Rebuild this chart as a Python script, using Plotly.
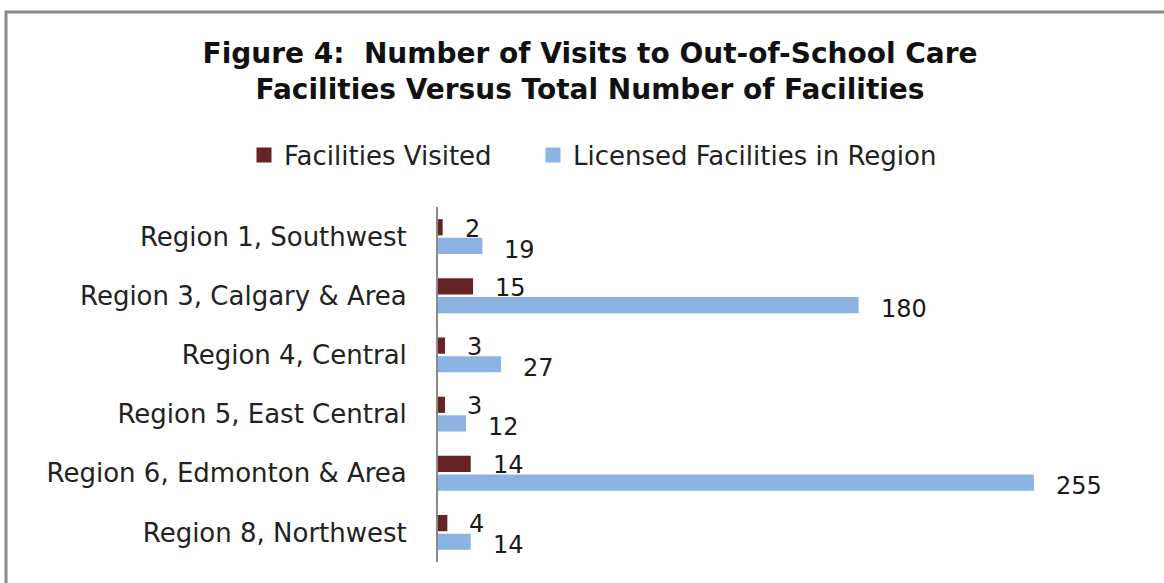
import plotly.graph_objects as go

# Regions and facility counts
regions = [
    "Region 1, Southwest",
    "Region 3, Calgary & Area",
    "Region 4, Central",
    "Region 5, East Central",
    "Region 6, Edmonton & Area",
    "Region 8, Northwest",
]
visited = [2, 15, 3, 3, 14, 4]
licensed = [19, 180, 27, 12, 255, 14]

series_names = ["Facilities Visited", "Licensed Facilities in Region"]
colors = ["#652323", "#8DB3E2"]

W, H = 1164, 583
ML, MR, MT, MB = 438, 95, 207, 21
PW = W - ML - MR
PH = H - MT - MB


def px_to_paper_x(px):
    return (px - ML) / PW


def py_to_paper_y(py):
    return (H - MB - py) / PH


FONT = "DejaVu Sans"

fig = go.Figure()
for name, vals, col in zip(series_names, [visited, licensed], colors):
    fig.add_trace(go.Bar(
        y=regions, x=vals, name=name, orientation="h",
        marker=dict(color=col, line=dict(width=0)),
        showlegend=False,
    ))

# Legend keys drawn as square markers, one legend box per series
legend_ids = ["legend", "legend2"]
legend_left_px = [244, 533]
for name, col, lid in zip(series_names, colors, legend_ids):
    fig.add_trace(go.Scatter(
        x=[None], y=[None], name=name, mode="markers",
        marker=dict(symbol="square", size=15, color=col),
        showlegend=True, legend=lid,
    ))

legend_style = dict(
    orientation="h", xanchor="left", yanchor="middle",
    y=py_to_paper_y(155), bgcolor="rgba(0,0,0,0)",
    font=dict(family=FONT, size=26, color="#222222"),
)

# Value labels beside each bar end
annotations = []
for vals, shift in [(visited, 8), (licensed, -13)]:
    for r, v in zip(regions, vals):
        annotations.append(dict(
            x=v, y=r, xref="x", yref="y", text=str(v), showarrow=False,
            xanchor="left", yanchor="middle", xshift=20, yshift=shift,
            font=dict(family=FONT, size=24, color="#1a1a1a"),
        ))

fig.update_layout(
    width=W, height=H,
    margin=dict(l=ML, r=MR, t=MT, b=MB),
    paper_bgcolor="white", plot_bgcolor="white",
    barmode="group", bargap=0.37, bargroupgap=0.13,
    title=dict(
        text="Figure 4:  Number of Visits to Out-of-School Care<br>Facilities Versus Total Number of Facilities",
        x=590 / W, xref="container", xanchor="center",
        y=1 - 63 / H, yref="container", yanchor="top",
        font=dict(family=FONT, size=28, color="#111111", weight="bold"),
    ),
    legend=dict(legend_style, x=px_to_paper_x(legend_left_px[0])),
    legend2=dict(legend_style, x=px_to_paper_x(legend_left_px[1])),
    xaxis=dict(range=[0, 270], visible=False, showgrid=False, zeroline=False),
    yaxis=dict(
        autorange="reversed", showgrid=False, zeroline=False,
        showline=True, linecolor="#8a8a8a", linewidth=2,
        ticks="", ticklabelstandoff=24,
        tickfont=dict(family=FONT, size=26, color="#222222"),
    ),
    annotations=annotations,
    shapes=[dict(
        type="rect", xref="paper", yref="paper",
        x0=px_to_paper_x(6), x1=px_to_paper_x(1175),
        y0=py_to_paper_y(12), y1=py_to_paper_y(600),
        line=dict(color="#8a8a8a", width=3), fillcolor="rgba(0,0,0,0)",
        layer="below",
    )],
)

fig.write_html("out.html")
